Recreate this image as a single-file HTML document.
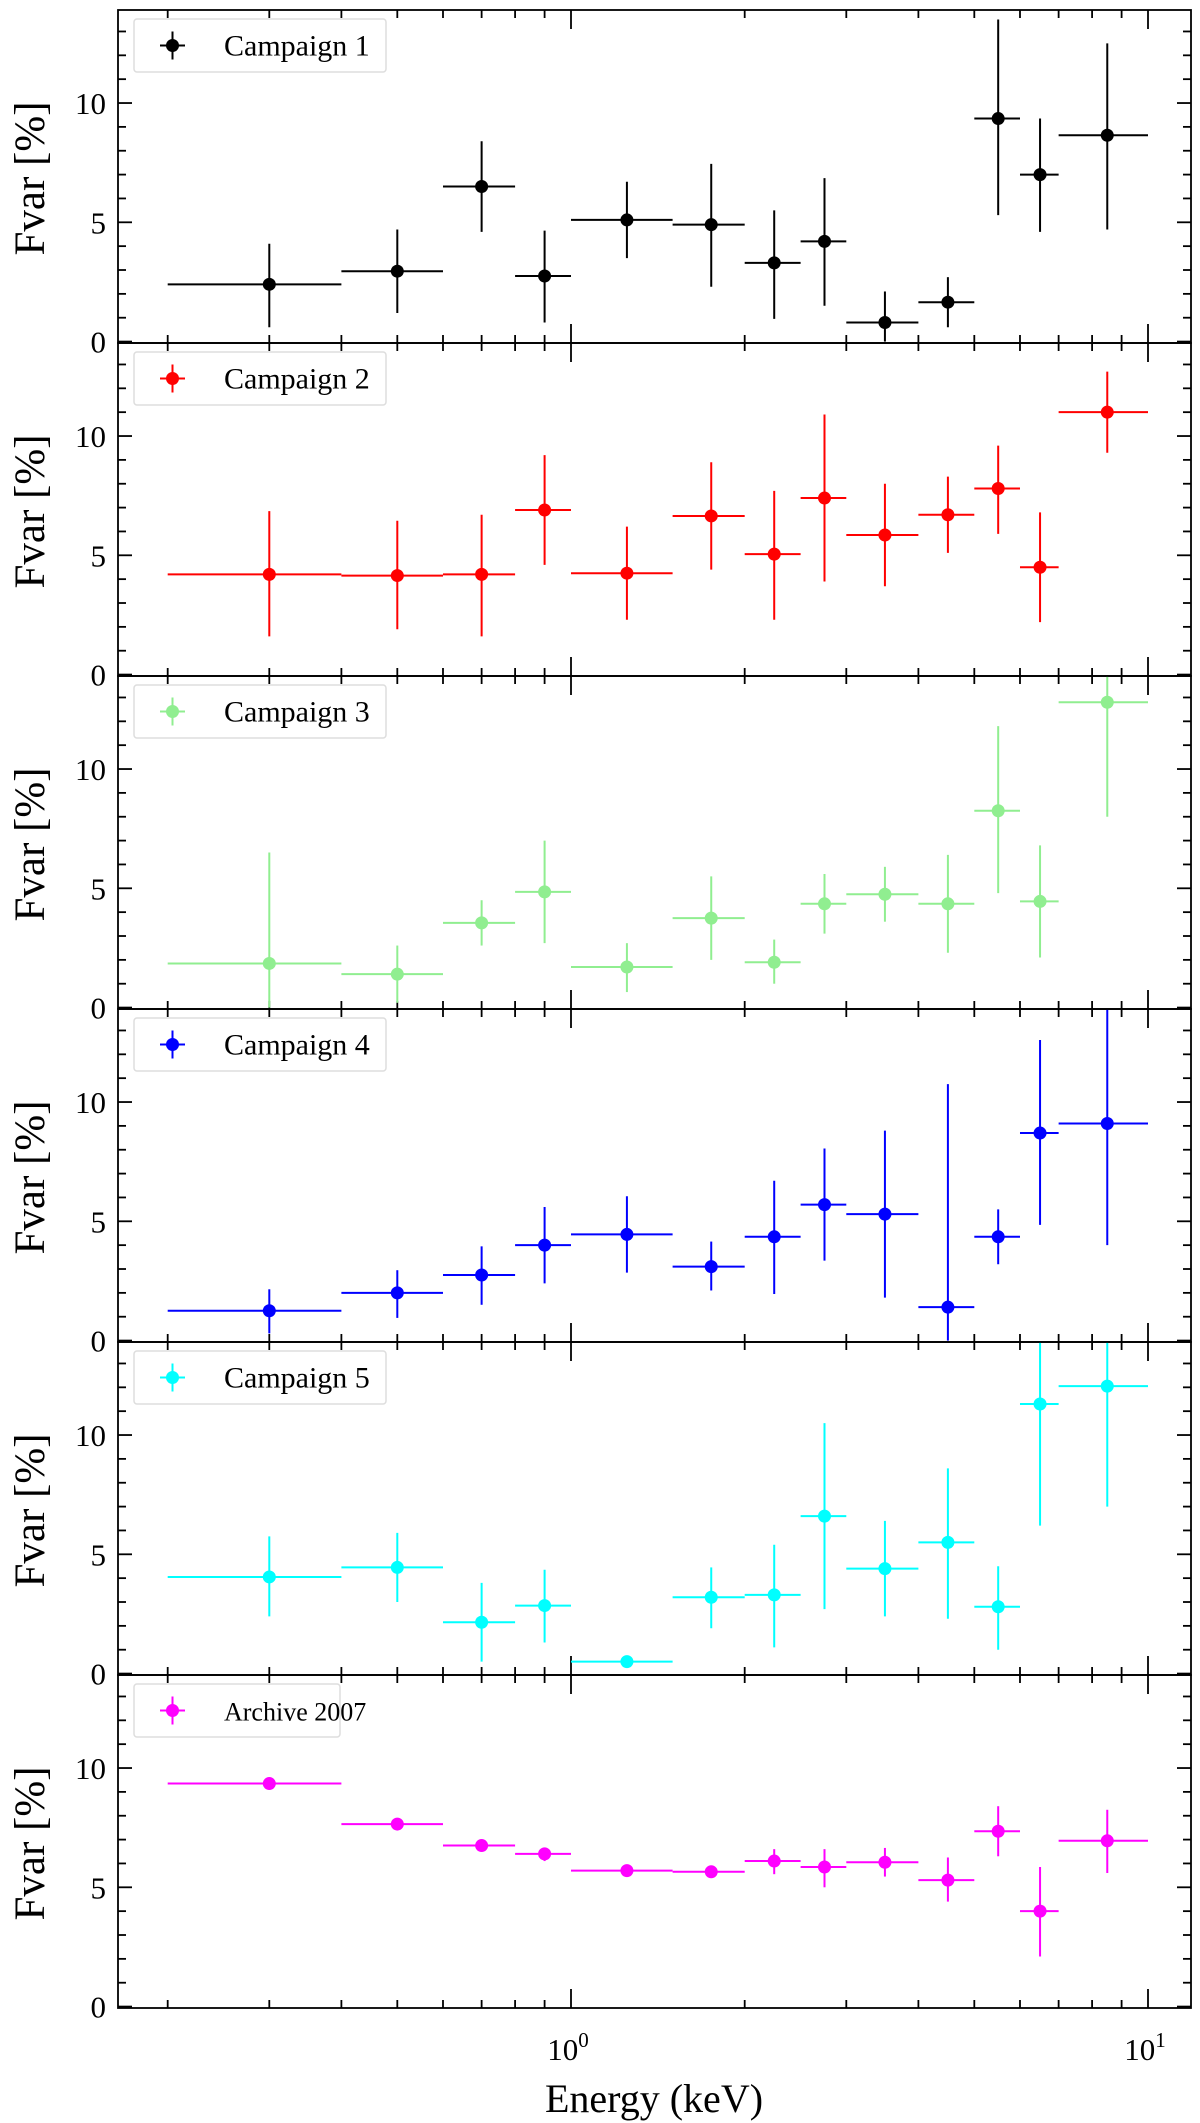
<!DOCTYPE html>
<html><head><meta charset="utf-8"><style>
html,body{margin:0;padding:0;background:#fff;}
svg{display:block;font-family:"Liberation Serif","DejaVu Serif",serif;}
</style></head><body>
<svg id="chart" width="1200" height="2123" viewBox="0 0 1200 2123" xmlns="http://www.w3.org/2000/svg"></svg>
<script>
const binCenters=[0.3,0.5,0.7,0.9,1.25,1.75,2.25,2.75,3.5,4.5,5.5,6.5,8.5];
const binLo=[0.2,0.4,0.6,0.8,1.0,1.5,2.0,2.5,3.0,4.0,5.0,6.0,7.0];
const binHi=[0.4,0.6,0.8,1.0,1.5,2.0,2.5,3.0,4.0,5.0,6.0,7.0,10.0];
const seriesNames=["Campaign 1","Campaign 2","Campaign 3","Campaign 4","Campaign 5","Archive 2007"];
const seriesColors=["#000000","#ff0000","#90ee90","#0000ff","#00ffff","#ff00ff"];
const c1Val=[2.4,2.95,6.5,2.75,5.1,4.9,3.3,4.2,0.8,1.65,9.35,7.0,8.65];
const c1Lo=[0.6,1.2,4.6,0.8,3.5,2.3,0.95,1.5,0,0.6,5.3,4.6,4.7];
const c1Hi=[4.1,4.7,8.4,4.65,6.7,7.45,5.5,6.85,2.1,2.7,13.5,9.35,12.5];
const c2Val=[4.2,4.15,4.2,6.9,4.25,6.65,5.05,7.4,5.85,6.7,7.8,4.5,11.0];
const c2Lo=[1.6,1.9,1.6,4.6,2.3,4.4,2.3,3.9,3.7,5.1,5.9,2.2,9.3];
const c2Hi=[6.85,6.45,6.7,9.2,6.2,8.9,7.7,10.9,8.0,8.3,9.6,6.8,12.7];
const c3Val=[1.85,1.4,3.55,4.85,1.7,3.75,1.9,4.35,4.75,4.35,8.25,4.45,12.8];
const c3Lo=[0,0.2,2.6,2.7,0.65,2.0,1.0,3.1,3.6,2.3,4.8,2.1,8.0];
const c3Hi=[6.5,2.6,4.5,7.0,2.7,5.5,2.85,5.6,5.9,6.4,11.8,6.8,14];
const c4Val=[1.25,2.0,2.75,4.0,4.45,3.1,4.35,5.7,5.3,1.4,4.35,8.7,9.1];
const c4Lo=[0.3,0.95,1.5,2.4,2.85,2.1,1.95,3.35,1.8,0,3.2,4.85,4.0];
const c4Hi=[2.15,2.95,3.95,5.6,6.05,4.15,6.7,8.05,8.8,10.75,5.5,12.6,14];
const c5Val=[4.05,4.45,2.15,2.85,0.5,3.2,3.3,6.6,4.4,5.5,2.8,11.3,12.05];
const c5Lo=[2.4,3.0,0.5,1.3,0.4,1.9,1.1,2.7,2.4,2.3,1.0,6.2,7.0];
const c5Hi=[5.75,5.9,3.8,4.35,0.6,4.45,5.4,10.5,6.4,8.6,4.5,14,14];
const c6Val=[9.35,7.65,6.75,6.4,5.7,5.65,6.1,5.85,6.05,5.3,7.35,4.0,6.95];
const c6Lo=[9.3,7.55,6.6,6.1,5.6,5.4,5.55,5.0,5.45,4.4,6.3,2.1,5.6];
const c6Hi=[9.4,7.75,6.9,6.65,5.8,5.9,6.6,6.6,6.65,6.25,8.4,5.85,8.25];
const yTicks=[0,5,10];
const xMajor=[1,10];
const xMajorLabels=[["10","0"],["10","1"]];
const xMinor=[0.2,0.3,0.4,0.5,0.6,0.7,0.8,0.9,2,3,4,5,6,7,8,9];

const vals=[c1Val,c2Val,c3Val,c4Val,c5Val,c6Val];
const los=[c1Lo,c2Lo,c3Lo,c4Lo,c5Lo,c6Lo];
const his=[c1Hi,c2Hi,c3Hi,c4Hi,c5Hi,c6Hi];

const NS="http://www.w3.org/2000/svg";
const svg=document.getElementById('chart');
const L=118,R=1191,TOP=10,PH=333;
const X0=571,DEC=577;
const YMIN=-0.06,YMAX=13.9;
function xs(v){return X0+Math.log10(v)*DEC;}
function ys(p,v){const b=TOP+PH*(p+1);return b-(v-YMIN)/(YMAX-YMIN)*PH;}
function mk(tag,attrs,parent){const e=document.createElementNS(NS,tag);for(const k in attrs)e.setAttribute(k,attrs[k]);(parent||svg).appendChild(e);return e;}

for(let p=0;p<6;p++){
  const g=mk('g',{});
  
  
  const top=TOP+PH*p,bot=top+PH;
  const clipId='clip'+p;
  const cp=mk('clipPath',{id:clipId},g);
  mk('rect',{x:L,y:top,width:R-L,height:PH},cp);
  for(let v=0;v<=13;v++){
    const y=ys(p,v);const major=v%5===0;const len=major?14:8;
    mk('line',{x1:L,x2:L+len,y1:y,y2:y,stroke:'#000','stroke-width':1.8},g);
    mk('line',{x1:R,x2:R-len,y1:y,y2:y,stroke:'#000','stroke-width':1.8},g);
  }
  yTicks.forEach(t=>{
    const tx=mk('text',{x:L-12,y:ys(p,t)+11,'text-anchor':'end','font-size':31},g);
    tx.textContent=t;
    
    
  });
  xMinor.forEach(v=>{
    const x=xs(v);
    mk('line',{x1:x,x2:x,y1:bot,y2:bot-8,stroke:'#000','stroke-width':1.8},g);
    mk('line',{x1:x,x2:x,y1:top,y2:top+8,stroke:'#000','stroke-width':1.8},g);
  });
  xMajor.forEach(v=>{
    const x=xs(v);
    mk('line',{x1:x,x2:x,y1:bot,y2:bot-19,stroke:'#000','stroke-width':1.8},g);
    mk('line',{x1:x,x2:x,y1:top,y2:top+19,stroke:'#000','stroke-width':1.8},g);
  });
  const yl=mk('text',{x:0,y:0,'font-size':43,'text-anchor':'middle',transform:'translate(44,'+(top+PH/2+2)+') rotate(-90)'},g);
  yl.textContent='Fvar [%]';
  
  
  const dg=mk('g',{'clip-path':'url(#'+clipId+')'},g);
  const col=seriesColors[p];
  for(let i=0;i<binCenters.length;i++){
    const pt=mk('g',{},dg);
    
    
    const cx=xs(binCenters[i]),cy=ys(p,vals[p][i]);
    mk('line',{x1:xs(binLo[i]),x2:xs(binHi[i]),y1:cy,y2:cy,stroke:col,'stroke-width':2},pt);
    mk('line',{x1:cx,x2:cx,y1:ys(p,los[p][i]),y2:ys(p,his[p][i]),stroke:col,'stroke-width':2},pt);
    mk('circle',{cx:cx,cy:cy,r:6.5,fill:col},pt);
  }
  mk('rect',{x:L,y:top,width:R-L,height:PH,fill:'none',stroke:'#000','stroke-width':1.8},g);
  const lg=mk('g',{},g);
  
  
  mk('rect',{x:134,y:top+9,width:p===5?206:252,height:53,rx:3,fill:'#fff',stroke:'#ddd','stroke-width':1.5},lg);
  const ly=top+35.5;
  mk('line',{x1:160,x2:185,y1:ly,y2:ly,stroke:col,'stroke-width':2},lg);
  mk('line',{x1:172.5,x2:172.5,y1:ly-14,y2:ly+14,stroke:col,'stroke-width':2},lg);
  mk('circle',{cx:172.5,cy:ly,r:6.5,fill:col},lg);
  const lt=mk('text',{x:224,y:ly+10,'font-size':p===5?26:30},lg);
  lt.textContent=seriesNames[p];
  
  
}
const lastBot=TOP+PH*6;
xMajor.forEach((v,i)=>{
  const t=mk('text',{x:xs(v)-3,y:lastBot+52,'text-anchor':'middle','font-size':31});
  
  
  t.textContent=xMajorLabels[i][0];
  const s=mk('tspan',{dy:-13,'font-size':21},t);
  s.textContent=xMajorLabels[i][1];
});
const xl=mk('text',{x:654,y:lastBot+104,'text-anchor':'middle','font-size':40});
xl.textContent='Energy (keV)';


</script>
</body></html>
